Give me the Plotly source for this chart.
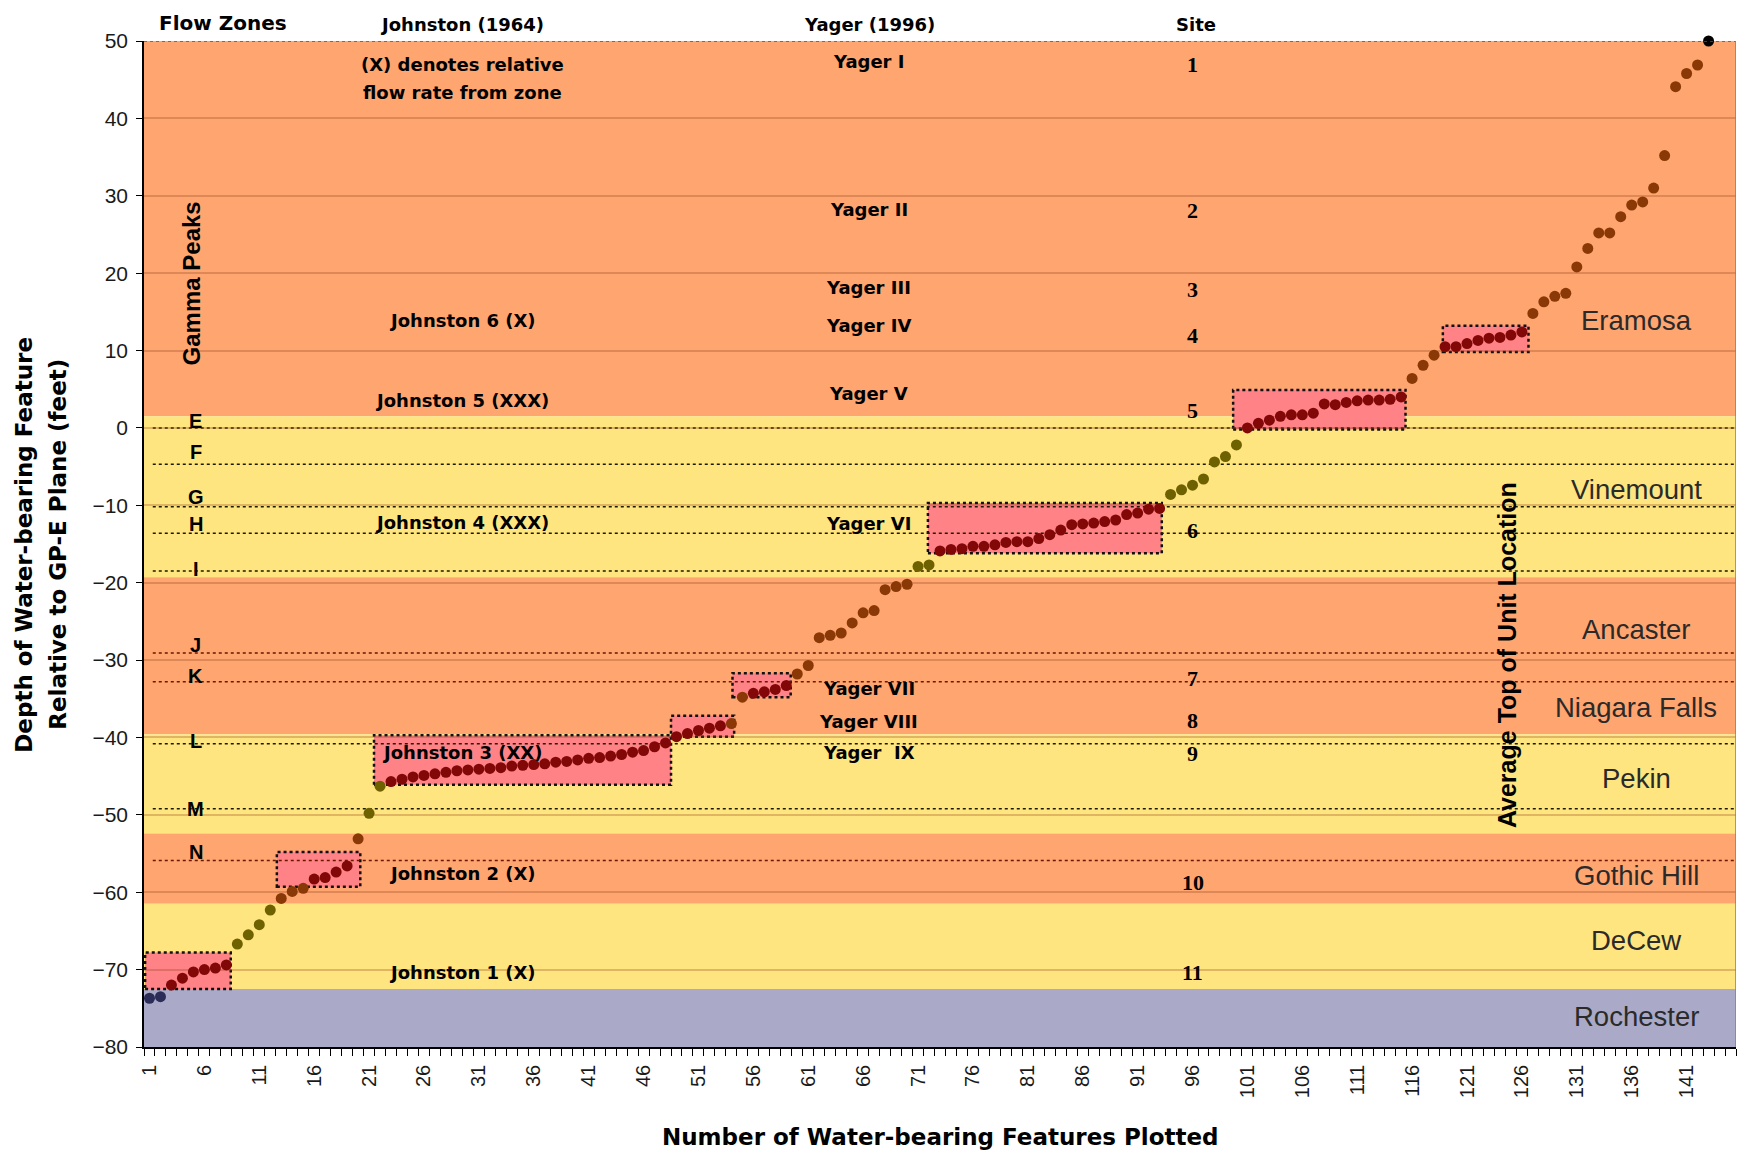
import plotly.graph_objects as go

# ---------------- water-bearing features, sorted by depth ----------------
feature_no = list(range(1, 144))
depth_ft = [
    -73.7, -73.5, -72.0, -71.1, -70.3, -70.0, -69.8, -69.4, -66.7, -65.5,
    -64.2, -62.3, -60.8, -59.9, -59.5, -58.3, -58.1, -57.4, -56.6, -53.1,
    -49.8, -46.3, -45.7, -45.4, -45.1, -44.9, -44.7, -44.5, -44.3, -44.2,
    -44.1, -44.0, -43.9, -43.7, -43.6, -43.5, -43.4, -43.2, -43.1, -42.9,
    -42.7, -42.6, -42.4, -42.2, -41.9, -41.7, -41.2, -40.7, -39.9, -39.5,
    -39.1, -38.8, -38.5, -38.2, -34.8, -34.3, -34.1, -33.8, -33.3, -31.8,
    -30.7, -27.1, -26.8, -26.5, -25.2, -23.9, -23.6, -20.9, -20.5, -20.2,
    -17.9, -17.7, -15.9, -15.7, -15.6, -15.3, -15.3, -15.1, -14.8, -14.7,
    -14.7, -14.3, -13.8, -13.2, -12.5, -12.4, -12.3, -12.1, -11.9, -11.2,
    -11.0, -10.5, -10.4, -8.6, -8.0, -7.4, -6.6, -4.4, -3.7, -2.2,
    0.0, 0.6, 1.0, 1.5, 1.7, 1.7, 1.9, 3.1, 3.0, 3.3,
    3.5, 3.6, 3.6, 3.7, 4.0, 6.4, 8.1, 9.4, 10.5, 10.5,
    10.9, 11.3, 11.6, 11.7, 12.0, 12.4, 14.8, 16.3, 17.0, 17.4,
    20.8, 23.2, 25.2, 25.2, 27.3, 28.8, 29.2, 31.0, 35.2, 44.1,
    45.8, 46.9, 50.0,
]
# marker class for consecutive runs of features:
# R = Rochester, Y = yellow unit, O = orange unit, Z = flow zone, T = top
dot_class_runs = [
    ("R", 2), ("Z", 6), ("Y", 4), ("O", 3), ("Z", 4), ("O", 1), ("Y", 2),
    ("Z", 31), ("O", 2), ("Z", 4), ("O", 11), ("Y", 2), ("Z", 21), ("Y", 7),
    ("Z", 15), ("O", 3), ("Z", 8), ("O", 16), ("T", 1),
]
dot_colors = {"R": "#2c2c58", "Y": "#6e6100", "O": "#8a3806",
              "Z": "#820808", "T": "#000000"}

# ---------------- formation bands ----------------
ORANGE = "#ffa570"
YELLOW = "#ffe57f"
GREYBLUE = "#aaaac8"
band_top = [50, 1.5, -19.3, -39.6, -52.4, -61.5, -72.5]
band_bottom = [1.5, -19.3, -39.6, -52.4, -61.5, -72.5, -80]
band_color = [ORANGE, YELLOW, ORANGE, YELLOW, ORANGE, YELLOW, GREYBLUE]

formation_names = ["Eramosa", "Vinemount", "Ancaster", "Niagara Falls",
                   "Pekin", "Gothic Hill", "DeCew", "Rochester"]
formation_label_y = [13.9, -7.9, -26.0, -36.1, -45.3, -57.9, -66.2, -76.0]

# ---------------- gamma peaks ----------------
gamma_names = ["E", "F", "G", "H", "I", "J", "K", "L", "M", "N"]
gamma_depth = [0.0, -4.7, -10.2, -13.6, -18.5, -29.1, -32.8, -40.8, -49.2, -55.9]
gamma_label_y = [0.9, -3.1, -8.9, -12.4, -18.2, -28.0, -32.0, -40.4, -49.2, -54.8]
gamma_in_orange = [False, False, False, False, False, True, True, False, False, True]

# ---------------- flow zones ----------------
zone_x0 = [0.6, 12.6, 21.45, 48.5, 54.1, 71.9, 99.7, 118.8]
zone_x1 = [8.4, 20.2, 48.5, 54.25, 59.4, 93.2, 115.4, 126.6]
zone_y0 = [-72.5, -59.3, -46.1, -39.9, -34.8, -16.2, -0.2, 9.8]
zone_y1 = [-67.8, -54.8, -39.7, -37.2, -31.7, -9.7, 4.9, 13.2]

# ---------------- zone references ----------------
johnston_text = ["(X) denotes relative", "flow rate from zone", "Johnston 6 (X)",
                 "Johnston 5 (XXX)", "Johnston 4 (XXX)", "Johnston 3 (XX)",
                 "Johnston 2 (X)", "Johnston 1 (X)"]
johnston_y = [47.0, 43.4, 13.9, 3.6, -12.2, -42.0, -57.6, -70.4]
yager_text = ["Yager I", "Yager II", "Yager III", "Yager IV", "Yager V",
              "Yager VI", "Yager VII", "Yager VIII", "Yager  IX"]
yager_y = [47.4, 28.2, 18.1, 13.2, 4.4, -12.3, -33.7, -38.0, -42.0]
site_text = ["1", "2", "3", "4", "5", "6", "7", "8", "9", "10", "11"]
site_y = [47.0, 28.1, 17.9, 12.0, 2.3, -13.3, -32.4, -37.8, -42.1, -58.8, -70.4]

x_tick_vals = list(range(1, 142, 5))
X_MIN, X_MAX = 0.5, 145.5
Y_MIN, Y_MAX = -80, 50

# ---------------- build figure ----------------
classes = []
for code, n in dot_class_runs:
    classes += [code] * n

fig = go.Figure()
fig.add_trace(go.Scatter(
    x=feature_no, y=depth_ft, mode="markers",
    marker=dict(size=11, color=[dot_colors[c] for c in classes], line=dict(width=0)),
    cliponaxis=False, showlegend=False, hoverinfo="x+y",
))

shapes = []
for top, bot, col in zip(band_top, band_bottom, band_color):
    shapes.append(dict(type="rect", xref="x", yref="y", x0=X_MIN, x1=X_MAX,
                       y0=bot, y1=top, fillcolor=col, line=dict(width=0),
                       layer="below"))
for x0, x1, y0, y1 in zip(zone_x0, zone_x1, zone_y0, zone_y1):
    shapes.append(dict(type="rect", xref="x", yref="y", x0=x0, x1=x1, y0=y0, y1=y1,
                       fillcolor="#ff8286",
                       line=dict(color="#111111", width=2.5, dash="dot"),
                       layer="below"))
for d, orange in zip(gamma_depth, gamma_in_orange):
    shapes.append(dict(type="line", xref="x", yref="y", x0=X_MIN + 0.8, x1=X_MAX,
                       y0=d, y1=d,
                       line=dict(color="#6a1800" if orange else "#1a1a00",
                                 width=1.5, dash="dot"),
                       layer="below"))
# frame: dotted top edge and grey right edge
shapes.append(dict(type="line", xref="x", yref="y", x0=X_MIN, x1=X_MAX,
                   y0=Y_MAX, y1=Y_MAX, line=dict(color="#555555", width=1.5, dash="dot")))
shapes.append(dict(type="line", xref="x", yref="y", x0=X_MAX, x1=X_MAX,
                   y0=Y_MIN, y1=Y_MAX, line=dict(color="#808080", width=1.5)))

BOLD = "DejaVu Sans"
ann = []


def label(text, x, y, size=18, family=BOLD, color="#000000", bold=True,
          angle=0, xref="x", yref="y", xanchor="center"):
    ann.append(dict(text=f"<b>{text}</b>" if bold else text, x=x, y=y,
                    xref=xref, yref=yref, showarrow=False, textangle=angle,
                    xanchor=xanchor, yanchor="middle",
                    font=dict(family=family, size=size, color=color)))


# column headers above the plot (paper y so they sit outside the axis range)
label("Flow Zones", 7.7, 1.018, size=20, yref="paper")
label("Johnston (1964)", 29.5, 1.016, yref="paper")
label("Yager (1996)", 66.6, 1.016, yref="paper")
label("Site", 96.3, 1.016, yref="paper")

for t, y in zip(johnston_text, johnston_y):
    label(t, 29.5, y)
for t, y in zip(yager_text, yager_y):
    label(t, 66.5, y)
for t, y in zip(site_text, site_y):
    label(t, 96.0, y, size=22, family="Liberation Serif")
for t, y in zip(gamma_names, gamma_label_y):
    label(t, 5.2, y, size=20, family="Liberation Sans")
for t, y in zip(formation_names, formation_label_y):
    label(t, 136.4, y, size=27.5, family="Liberation Sans", color="#2a2a2a", bold=False)

label("Gamma Peaks", 4.8, 18.7, size=24, family="Liberation Sans", angle=-90)
label("Average Top of Unit Location", 124.7, -29.4, size=25,
      family="Liberation Sans", angle=-90)

# axis titles
label("Depth of Water-bearing Feature", -0.0754, -15.1, size=23, angle=-90,
      xref="paper")
label("Relative to GP-E Plane (feet)", -0.054, -15.1, size=23, angle=-90,
      xref="paper")
label("Number of Water-bearing Features Plotted", 0.5, -0.0895, size=23,
      xref="paper", yref="paper")

fig.update_layout(
    width=1739, height=1155,
    margin=dict(l=144, r=3, t=41, b=108),
    paper_bgcolor="white", plot_bgcolor="white",
    shapes=shapes, annotations=ann,
    xaxis=dict(
        range=[X_MIN, X_MAX], tickmode="array", tickvals=x_tick_vals,
        ticktext=[str(v) for v in x_tick_vals], tickangle=-90, ticks="",
        showgrid=False, zeroline=False, showline=True, linecolor="black",
        linewidth=1.5,
        tickfont=dict(family="Liberation Sans", size=20, color="#1a1a1a"),
        minor=dict(tickmode="linear", tick0=0.5, dtick=1, ticks="outside",
                   ticklen=7, tickwidth=1, tickcolor="black", showgrid=False),
        ticklabelstandoff=8,
    ),
    yaxis=dict(
        range=[Y_MIN, Y_MAX], tickmode="linear", tick0=0, dtick=10,
        ticks="outside", ticklen=6, tickcolor="black",
        showgrid=True, gridcolor="rgba(150,70,30,0.30)", gridwidth=1.5,
        zeroline=False, showline=True, linecolor="black", linewidth=1.5,
        tickfont=dict(family="Liberation Sans", size=21, color="#1a1a1a"),
        ticklabelstandoff=4,
    ),
)

fig.write_html("out.html")
